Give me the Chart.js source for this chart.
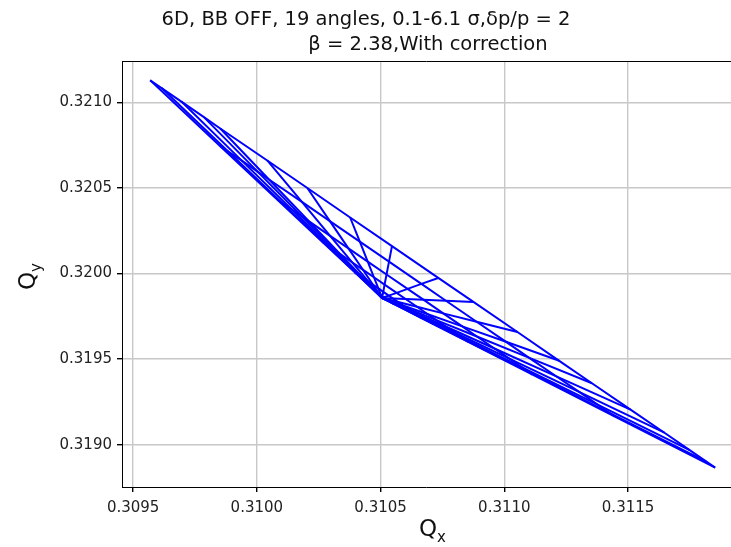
<!DOCTYPE html>
<html>
<head>
<meta charset="utf-8">
<script src="https://cdn.jsdelivr.net/npm/chart.js@4.4.1/dist/chart.umd.min.js"></script>
<style>
  html, body { margin: 0; padding: 0; background: #fff; }
  canvas { display: block; }
</style>
</head>
<body>
<canvas id="footprint" width="731" height="547"></canvas>
<script>
// amplitudes (sigma) and tune footprint, one row per angle (19 angles), one column per amplitude
const ampSigma = [0.1, 1.1, 2.1, 3.1, 4.1, 5.1, 6.1];

const qx = [
    [0.310506, 0.310476, 0.310395, 0.310264, 0.310083, 0.309851, 0.309569],
    [0.310506, 0.310477, 0.310400, 0.310276, 0.310103, 0.309883, 0.309615],
    [0.310506, 0.310480, 0.310410, 0.310297, 0.310140, 0.309939, 0.309695],
    [0.310506, 0.310483, 0.310421, 0.310320, 0.310181, 0.310003, 0.309786],
    [0.310506, 0.310485, 0.310429, 0.310337, 0.310211, 0.310049, 0.309852],
    [0.310506, 0.310491, 0.310451, 0.310386, 0.310296, 0.310182, 0.310042],
    [0.310506, 0.310496, 0.310470, 0.310428, 0.310370, 0.310295, 0.310204],
    [0.310506, 0.310502, 0.310491, 0.310473, 0.310448, 0.310416, 0.310377],
    [0.310506, 0.310507, 0.310511, 0.310516, 0.310524, 0.310534, 0.310546],
    [0.310506, 0.310513, 0.310533, 0.310565, 0.310609, 0.310665, 0.310733],
    [0.310506, 0.310518, 0.310550, 0.310601, 0.310673, 0.310764, 0.310875],
    [0.310506, 0.310524, 0.310571, 0.310647, 0.310753, 0.310888, 0.311053],
    [0.310506, 0.310529, 0.310591, 0.310691, 0.310830, 0.311007, 0.311222],
    [0.310506, 0.310534, 0.310607, 0.310725, 0.310889, 0.311099, 0.311354],
    [0.310506, 0.310539, 0.310625, 0.310765, 0.310960, 0.311208, 0.311510],
    [0.310506, 0.310543, 0.310641, 0.310801, 0.311022, 0.311304, 0.311647],
    [0.310506, 0.310546, 0.310653, 0.310827, 0.311068, 0.311375, 0.311749],
    [0.310506, 0.310549, 0.310661, 0.310845, 0.311099, 0.311423, 0.311818],
    [0.310506, 0.310550, 0.310665, 0.310854, 0.311114, 0.311447, 0.311852]
];

const qy = [
    [0.319857, 0.319898, 0.320008, 0.320185, 0.320431, 0.320745, 0.321128],
    [0.319857, 0.319897, 0.320002, 0.320174, 0.320411, 0.320714, 0.321083],
    [0.319857, 0.319894, 0.319993, 0.320153, 0.320375, 0.320659, 0.321004],
    [0.319857, 0.319891, 0.319982, 0.320130, 0.320334, 0.320595, 0.320913],
    [0.319857, 0.319889, 0.319974, 0.320113, 0.320304, 0.320549, 0.320847],
    [0.319857, 0.319883, 0.319952, 0.320064, 0.320220, 0.320418, 0.320660],
    [0.319857, 0.319878, 0.319933, 0.320023, 0.320147, 0.320306, 0.320499],
    [0.319857, 0.319872, 0.319913, 0.319978, 0.320069, 0.320186, 0.320327],
    [0.319857, 0.319867, 0.319893, 0.319935, 0.319994, 0.320069, 0.320160],
    [0.319857, 0.319861, 0.319871, 0.319887, 0.319910, 0.319939, 0.319974],
    [0.319857, 0.319856, 0.319854, 0.319851, 0.319847, 0.319841, 0.319834],
    [0.319857, 0.319851, 0.319833, 0.319806, 0.319767, 0.319718, 0.319658],
    [0.319857, 0.319845, 0.319813, 0.319762, 0.319691, 0.319601, 0.319490],
    [0.319857, 0.319841, 0.319798, 0.319728, 0.319632, 0.319509, 0.319359],
    [0.319857, 0.319836, 0.319780, 0.319689, 0.319562, 0.319401, 0.319205],
    [0.319857, 0.319831, 0.319764, 0.319654, 0.319501, 0.319307, 0.319070],
    [0.319857, 0.319828, 0.319752, 0.319627, 0.319455, 0.319236, 0.318968],
    [0.319857, 0.319826, 0.319744, 0.319610, 0.319425, 0.319188, 0.318900],
    [0.319857, 0.319825, 0.319740, 0.319601, 0.319409, 0.319164, 0.318866]
];

const xTicks = [0.3095, 0.3100, 0.3105, 0.3110, 0.3115];
const yTicks = [0.3190, 0.3195, 0.3200, 0.3205, 0.3210];

const titleLines = ['6D, BB OFF, 19 angles, 0.1-6.1 σ,δp/p = 2', 'β = 2.38,With correction'];

const FONT = "'DejaVu Sans', sans-serif";
const LINE = '#0000ff';

// lines along each angle (radial) and along each amplitude (arcs)
const datasets = [];
qx.forEach((row, i) => {
    datasets.push({
        data: row.map((x, j) => ({ x: x, y: qy[i][j] }))
    });
});
ampSigma.forEach((a, j) => {
    datasets.push({
        data: qx.map((row, i) => ({ x: row[j], y: qy[i][j] }))
    });
});
datasets.forEach(d => {
    d.showLine = true;
    d.borderColor = LINE;
    d.backgroundColor = LINE;
    d.borderWidth = 2;
    d.pointRadius = 0;
    d.tension = 0;
});

const decorations = {
    id: 'decorations',
    afterDraw(chart) {
        const ctx = chart.ctx;
        const area = chart.chartArea;
        ctx.save();
        // top spine
        ctx.strokeStyle = '#000';
        ctx.lineWidth = 1;
        ctx.beginPath();
        ctx.moveTo(area.left, area.top + 0.5);
        ctx.lineTo(area.right, area.top + 0.5);
        ctx.stroke();

        ctx.fillStyle = '#111';
        ctx.textBaseline = 'middle';
        ctx.textAlign = 'center';
        ctx.font = '19.5px ' + FONT;
        ctx.fillText(titleLines[0], 366, 20);
        ctx.fillText(titleLines[1], 428, 45);

        // x label
        ctx.textAlign = 'left';
        ctx.textBaseline = 'alphabetic';
        ctx.font = '23px ' + FONT;
        ctx.fillText('Q', 419, 536);
        let w = ctx.measureText('Q').width;
        ctx.font = '15px ' + FONT;
        ctx.fillText('x', 419 + w, 542);

        // y label
        ctx.translate(35, 290);
        ctx.rotate(-Math.PI / 2);
        ctx.font = '23px ' + FONT;
        ctx.fillText('Q', 0, 0);
        w = ctx.measureText('Q').width;
        ctx.font = '15px ' + FONT;
        ctx.fillText('y', w, 6);
        ctx.restore();
    }
};

new Chart(document.getElementById('footprint'), {
    type: 'scatter',
    data: { datasets: datasets },
    options: {
        responsive: false,
        animation: false,
        layout: { padding: { left: 0, right: 0, top: 61, bottom: 0 } },
        plugins: {
            legend: { display: false },
            tooltip: { enabled: false },
            title: { display: false }
        },
        scales: {
            x: {
                type: 'linear',
                min: 0.309455,
                max: 0.311916,
                afterBuildTicks: s => { s.ticks = xTicks.map(v => ({ value: v })); },
                afterFit: s => { s.height = 547 - 487; },
                grid: { color: '#c8c8c8', lineWidth: 1.4, tickColor: '#000', tickLength: 5 },
                border: { color: '#000', width: 1 },
                ticks: {
                    color: '#222',
                    font: { family: FONT, size: 15 },
                    padding: 7,
                    maxRotation: 0,
                    callback: v => v.toFixed(4)
                }
            },
            y: {
                type: 'linear',
                min: 0.318753,
                max: 0.321241,
                afterBuildTicks: s => { s.ticks = yTicks.map(v => ({ value: v })); },
                afterFit: s => { s.width = 122; },
                grid: { color: '#c8c8c8', lineWidth: 1.4, tickColor: '#000', tickLength: 5 },
                border: { color: '#000', width: 1 },
                ticks: {
                    color: '#222',
                    font: { family: FONT, size: 15 },
                    padding: 5,
                    callback: v => v.toFixed(4)
                }
            }
        }
    },
    plugins: [decorations]
});
</script>
</body>
</html>
